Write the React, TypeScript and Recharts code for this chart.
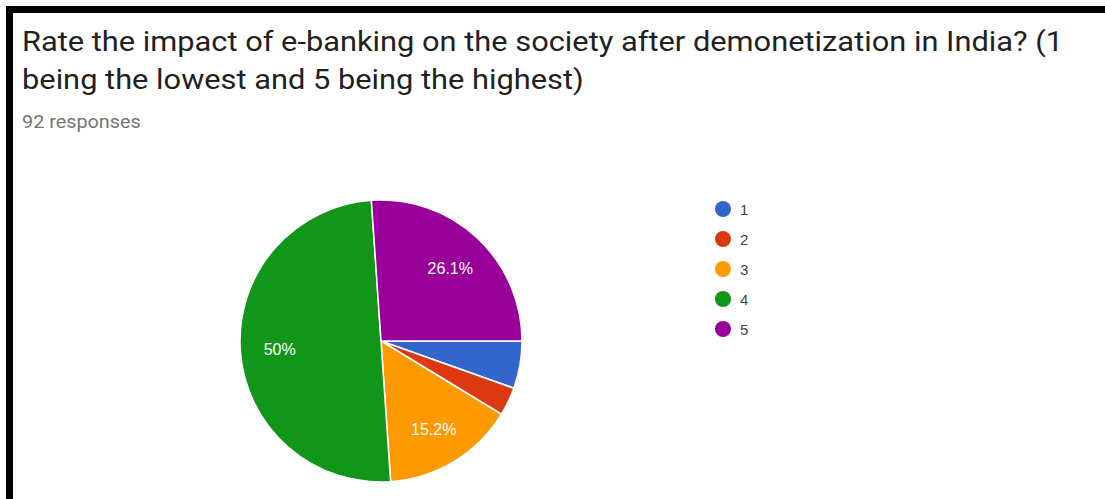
import React from "react";
import { PieChart, Pie, Cell, Legend } from "recharts";

const categories = ["1", "2", "3", "4", "5"];
const responses = [5, 3, 14, 46, 24];
const colors = ["#3366cc", "#dc3912", "#ff9900", "#109618", "#990099"];
const titleLines = [
  "Rate the impact of e-banking on the society after demonetization in India? (1",
  "being the lowest and 5 being the highest)",
];
const subtitle = "92 responses";

const data = categories.map((c, i) => ({ name: c, value: responses[i] }));
const total = responses.reduce((a, b) => a + b, 0);

const RAD = Math.PI / 180;
const renderLabel = (props: any) => {
  const { cx, cy, midAngle, outerRadius, value } = props;
  const pct = (value / total) * 100;
  if (pct < 10) return null;
  const r = outerRadius * 0.72;
  const x = cx + r * Math.cos(-midAngle * RAD);
  const y = cy + r * Math.sin(-midAngle * RAD) + 2;
  const txt = (Math.round(pct * 10) / 10).toString() + "%";
  return (
    <text
      x={x}
      y={y}
      fill="#ffffff"
      textAnchor="middle"
      dominantBaseline="central"
      fontFamily="Arial, 'Liberation Sans', sans-serif"
      fontSize={16}
    >
      {txt}
    </text>
  );
};

const renderLegend = (props: any) => {
  const { payload } = props;
  return (
    <div>
      {payload.map((p: any, i: number) => (
        <div
          key={i}
          style={{ display: "flex", alignItems: "center", height: 30 }}
        >
          <svg width={18} height={18} style={{ marginRight: 8 }}>
            <circle cx={9} cy={9} r={8} fill={p.color} />
          </svg>
          <span
            style={{
              fontFamily: "Arial, 'Liberation Sans', sans-serif",
              fontSize: 15,
              color: "#444444",
            }}
          >
            {p.value}
          </span>
        </div>
      ))}
    </div>
  );
};

export default function App() {
  return (
    <div
      style={{
        position: "absolute",
        left: 0,
        top: 0,
        width: 1105,
        height: 499,
        background: "#ffffff",
        overflow: "hidden",
      }}
    >
      <div
        style={{
          position: "absolute",
          left: 6,
          top: 6,
          width: 1099,
          height: 493,
          borderLeft: "7px solid #000",
          borderTop: "7px solid #000",
          boxSizing: "border-box",
        }}
      />
      <div
        style={{
          position: "absolute",
          left: 22,
          top: 23,
          fontFamily: "Roboto, sans-serif",
          fontSize: 28,
          lineHeight: "38px",
          color: "#212121",
          whiteSpace: "nowrap",
          transform: "scaleX(1.1)",
          transformOrigin: "0 0",
        }}
      >
        {titleLines.map((t, i) => (
          <div key={i}>{t}</div>
        ))}
      </div>
      <div
        style={{
          position: "absolute",
          left: 22,
          top: 113,
          fontFamily: "Roboto, sans-serif",
          fontSize: 18,
          lineHeight: "18px",
          color: "#757575",
          whiteSpace: "nowrap",
          transform: "scaleX(1.1)",
          transformOrigin: "0 0",
        }}
      >
        {subtitle}
      </div>
      <div style={{ position: "absolute", left: 0, top: 0 }}>
        <PieChart
          width={1105}
          height={499}
          margin={{ top: 0, right: 0, bottom: 0, left: 0 }}
        >
          <Pie
            data={data}
            dataKey="value"
            nameKey="name"
            cx={381}
            cy={341}
            outerRadius={141}
            startAngle={0}
            endAngle={-360}
            stroke="#ffffff"
            strokeWidth={1.5}
            label={renderLabel}
            labelLine={false}
            isAnimationActive={false}
          >
            {data.map((d, i) => (
              <Cell key={d.name} fill={colors[i]} />
            ))}
          </Pie>
          <Legend
            layout="vertical"
            align="right"
            verticalAlign="top"
            content={renderLegend}
            wrapperStyle={{ left: 714, top: 194, width: 60 }}
          />
        </PieChart>
      </div>
    </div>
  );
}
